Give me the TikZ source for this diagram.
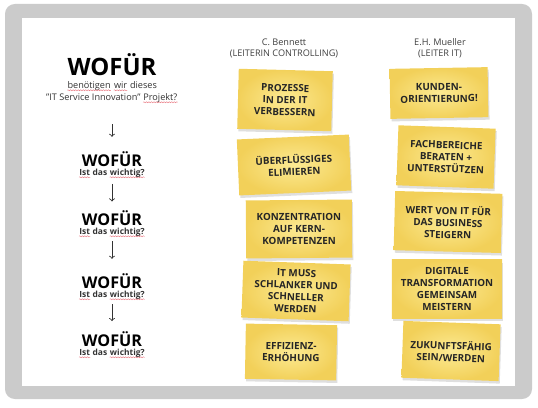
\documentclass[tikz,border=0pt]{standalone}
\usepackage{fontspec}
\setmainfont{Open Sans}
\usepackage{tikz}
\usetikzlibrary{shadows,decorations.pathmorphing}

\definecolor{framegray}{HTML}{CBCBCB}
\definecolor{notelight}{HTML}{FCEA93}
\definecolor{notedark}{HTML}{F2D059}
\definecolor{notetext}{HTML}{262626}
\definecolor{spellred}{HTML}{E8707A}

% wavy spell-check line under a word
\newcommand{\spell}[1]{\tikz[baseline=(sw.base)]{\node[inner sep=0pt] (sw) {#1};\draw[spellred, line width=0.3pt, decorate, decoration={snake, amplitude=0.35pt, segment length=1.8pt}] ([yshift=-1.6pt]sw.base west) -- ([yshift=-1.6pt]sw.base east);}}

\tikzset{
  sticky/.style={rectangle, inner color=notelight, outer color=notedark,
    drop shadow={opacity=0.25, shadow xshift=0.8pt, shadow yshift=-1.8pt},
    text=notetext, align=center, inner sep=0pt,
    font=\fontsize{7}{8.5}\selectfont\bfseries},
  bigq/.style={anchor=base, inner sep=0pt, font=\fontsize{17}{17}\selectfont\bfseries},
  smallq/.style={anchor=base, inner sep=0pt, font=\fontsize{11.5}{11.5}\selectfont\bfseries},
  why/.style={anchor=base, inner sep=0pt, text=black!80, font=\fontsize{6}{6}\selectfont\bfseries},
  sub/.style={anchor=base, inner sep=0pt, text=black!80, font=\fontsize{6.5}{6.5}\selectfont},
  head/.style={inner sep=0pt, align=center, text=black!75, font=\fontsize{6.5}{7.8}\selectfont},
  down/.style={->, line width=0.6pt, black!80},
}

\begin{document}
\begin{tikzpicture}[x=0.025cm, y=-0.025cm]
  % frame
  \useasboundingbox (0,0) rectangle (538,407);
  \fill[framegray, rounded corners=7pt] (5,4) rectangle (532,399);
  \fill[white] (22,18) rectangle (515,386);

  % left column
  \node[bigq] (q0) at (112,75) {WOFÜR};
  \node[sub] (s0a) at (112,88) {\spell{benötigen} \spell{wir} dieses};
  \node[sub] (s0b) at (112,100) {"IT Service Innovation" \spell{Projekt?}};
  \node[smallq] (q1) at (112,166) {WOFÜR};
  \node[why] (s1) at (112,175) {\spell{Ist} das \spell{wichtig?}};
  \node[smallq] (q2) at (112,225) {WOFÜR};
  \node[why] (s2) at (112,234) {\spell{Ist} das \spell{wichtig?}};
  \node[smallq] (q3) at (112,288) {WOFÜR};
  \node[why] (s3) at (112,297) {\spell{Ist} das \spell{wichtig?}};
  \node[smallq] (q4) at (112,346) {WOFÜR};
  \node[why] (s4) at (112,355) {\spell{Ist} das \spell{wichtig?}};

  % arrows
  \draw[down, shorten <=15pt, shorten >=10pt] (s0b.south) -- (q1.north);
  \draw[down, shorten <=4pt, shorten >=6pt] (s1.south) -- (q2.north);
  \draw[down, shorten <=3pt, shorten >=10pt] (s2.south) -- (q3.north);
  \draw[down, shorten <=3pt, shorten >=7pt] (s3.south) -- (q4.north);

  % heads
  \node[head] (bennett) at (284,48) {C. Bennett\\(LEITERIN CONTROLLING)};
  \node[head] (mueller) at (440,48) {E.H. Mueller\\(LEITER IT)};

  % notes C. Bennett
  \node[sticky, minimum width=2.35cm, minimum height=1.5cm, rotate=-1.5] (b1) at (285,100) {PROZESSE\\IN DER IT\\VERBESSERN};
  \node[sticky, minimum width=2.8cm, minimum height=1.4cm, rotate=2.5] (b2) at (294,165) {ÜBERFLÜSSIGES\\ELIMIEREN};
  \node[sticky, minimum width=2.65cm, minimum height=1.45cm, rotate=0.5] (b3) at (299,229) {KONZENTRATION\\AUF KERN-\\KOMPETENZEN};
  \node[sticky, minimum width=2.68cm, minimum height=1.42cm, rotate=-2] (b4) at (296,291) {IT MUSS\\SCHLANKER UND\\SCHNELLER\\WERDEN};
  \node[sticky, minimum width=2.28cm, minimum height=1.38cm, rotate=-1] (b5) at (291,352) {EFFIZIENZ-\\ERHÖHUNG};

  % notes E.H. Mueller
  \node[sticky, minimum width=2.45cm, minimum height=1.25cm, rotate=1] (m1) at (439,93) {KUNDEN-\\ORIENTIERUNG!};
  \node[sticky, minimum width=2.43cm, minimum height=1.5cm, rotate=-2] (m2) at (446,157) {FACHBEREICHE\\BERATEN +\\UNTERSTÜTZEN};
  \node[sticky, minimum width=2.68cm, minimum height=1.48cm, rotate=-1.5] (m3) at (448,222) {WERT VON IT FÜR\\DAS BUSINESS\\STEIGERN};
  \node[sticky, minimum width=2.75cm, minimum height=1.45cm, rotate=0] (m4) at (447,289) {DIGITALE\\TRANSFORMATION\\GEMEINSAM\\MEISTERN};
  \node[sticky, minimum width=2.43cm, minimum height=1.42cm, rotate=-2] (m5) at (451,351) {ZUKUNFTSFÄHIG\\SEIN/WERDEN};
\end{tikzpicture}
\end{document}
